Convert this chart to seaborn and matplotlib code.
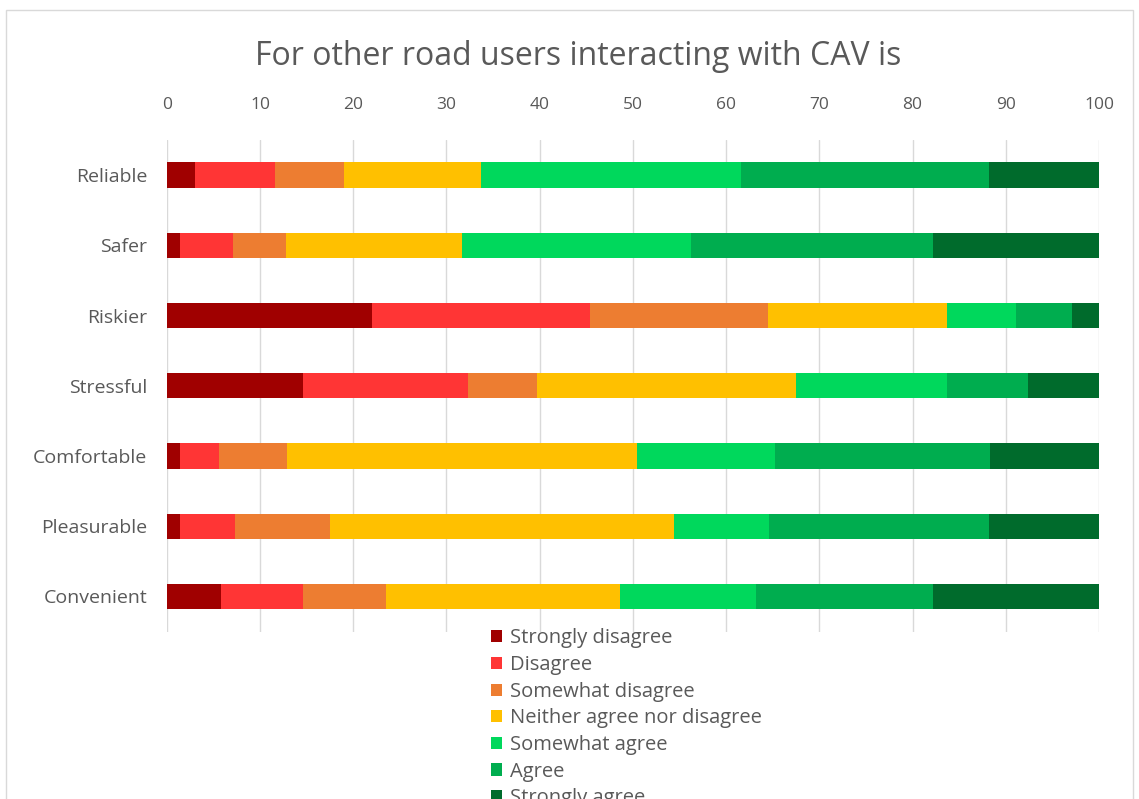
import numpy as np
import pandas as pd
import matplotlib
matplotlib.use("Agg")
import matplotlib.pyplot as plt
from matplotlib.patches import Patch
import seaborn as sns

# Survey statements (rows) and response levels (stack order)
statements = ["Reliable", "Safer", "Riskier", "Stressful",
              "Comfortable", "Pleasurable", "Convenient"]
levels = ["Strongly disagree", "Disagree", "Somewhat disagree",
          "Neither agree nor disagree", "Somewhat agree", "Agree",
          "Strongly agree"]

# Share of respondents (%) for each level, one list per level
strongly_disagree = [3.0, 1.4, 22.0, 14.6, 1.4, 1.4, 5.8]
disagree          = [8.6, 5.7, 23.4, 17.7, 4.2, 5.9, 8.8]
somewhat_disagree = [7.4, 5.7, 19.1, 7.4, 7.3, 10.2, 8.9]
neutral           = [14.7, 18.9, 19.2, 27.8, 37.5, 36.9, 25.1]
somewhat_agree    = [27.9, 24.5, 7.4, 16.2, 14.8, 10.2, 14.6]
agree             = [26.6, 26.0, 6.0, 8.7, 23.1, 23.6, 19.0]
strongly_agree    = [11.8, 17.8, 2.9, 7.6, 11.7, 11.8, 17.8]

colors = ["#a00000", "#ff3535", "#ed7d31", "#ffc000",
          "#00d85c", "#00ad4f", "#006b2c"]

series = [strongly_disagree, disagree, somewhat_disagree, neutral,
          somewhat_agree, agree, strongly_agree]
df = pd.DataFrame(dict(zip(levels, series)), index=statements)
cum = df.cumsum(axis=1)

sns.set_theme(style="white")
plt.rcParams["font.family"] = ["Open Sans", "DejaVu Sans"]
text_col = "#595959"

fig = plt.figure(figsize=(11.39, 7.99), dpi=100)
fig.patch.set_facecolor("white")
ax = fig.add_axes([0.1464, 0.2095, 0.8185, 0.6153])

# Stacked bars: draw cumulative totals from the outermost level inward
for lvl, col in reversed(list(zip(levels, colors))):
    sns.barplot(x=cum[lvl].values, y=statements, orient="h", color=col,
                width=0.36, saturation=1, ax=ax, zorder=3, linewidth=0)

ax.set_xlim(0, 100)
ax.set_ylim(6.5, -0.5)
ax.set_xticks(np.arange(0, 101, 10))
ax.xaxis.tick_top()
ax.grid(axis="x", color="#d9d9d9", linewidth=1.0, zorder=0)
ax.grid(axis="y", visible=False)
for s in ax.spines.values():
    s.set_visible(False)
ax.tick_params(axis="x", length=0, pad=19.5, labelsize=12.5, labelcolor=text_col)
ax.tick_params(axis="y", length=0, pad=14, labelsize=14, labelcolor=text_col)
ax.set_xlabel("")
ax.set_ylabel("")

fig.text(0.508, 0.929, "For other road users interacting with CAV is",
         ha="center", va="center", fontsize=23, color=text_col)

handles = [Patch(facecolor=c, edgecolor="none", label=l)
           for l, c in zip(levels, colors)]
fig.legend(handles=handles, loc="upper left",
           bbox_to_anchor=(0.431, 0.2135), frameon=False,
           fontsize=14.5, labelcolor=text_col, handlelength=0.55,
           handleheight=0.55, handletextpad=0.4, labelspacing=0.33,
           borderaxespad=0, borderpad=0)

# Thin light frame round the chart area
fig.add_artist(plt.Rectangle((0.005, -0.01), 0.99, 0.998, transform=fig.transFigure,
                             fill=False, edgecolor="#d9d9d9", linewidth=1))

fig.savefig("out.png", dpi=100)
